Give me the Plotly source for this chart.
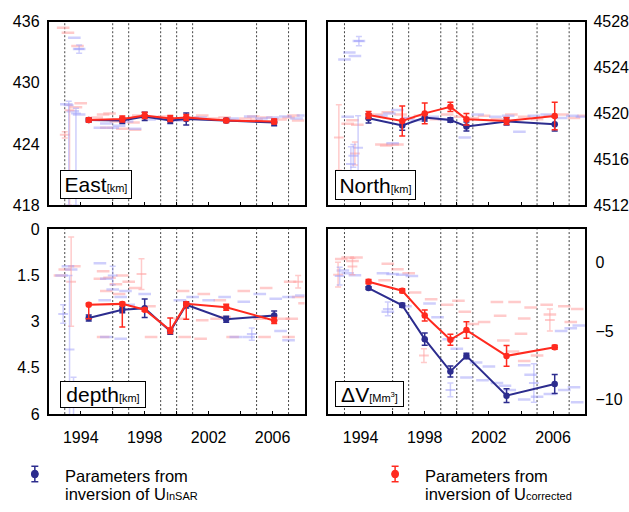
import plotly.graph_objects as go

# ---------------- data ----------------
years = [1994.5, 1996.6, 1998.0, 1999.6, 2000.6, 2003.1, 2006.1]
event_years = [1993, 1996, 1997, 1999, 2000, 2001, 2005, 2007]
x_tick_vals = [1994, 1998, 2002, 2006]
x_tick_text = ["1994", "1998", "2002", "2006"]

east_insar = [426.35, 426.3, 426.7, 426.3, 426.45, 426.3, 426.1]
east_insar_err = [0.2, 0.3, 0.4, 0.3, 0.6, 0.2, 0.3]
east_corr = [426.35, 426.45, 426.8, 426.5, 426.6, 426.3, 426.2]
east_corr_err = [0.2, 0.3, 0.3, 0.3, 0.3, 0.2, 0.25]

north_insar = [4519.57, 4518.94, 4519.63, 4519.43, 4518.86, 4519.29, 4519.06]
north_insar_err = [0.4, 0.4, 0.3, 0.2, 0.4, 0.3, 0.6]
north_corr = [4519.86, 4519.34, 4520.0, 4520.57, 4519.49, 4519.34, 4519.77]
north_corr_err = [0.3, 1.3, 0.9, 0.4, 0.5, 0.3, 1.2]

depth_insar = [2.88, 2.61, 2.56, 3.31, 2.45, 2.92, 2.8]
depth_insar_err = [0.1, 0.1, 0.3, 0.1, 0.1, 0.1, 0.15]
depth_corr = [2.45, 2.42, 2.61, 3.28, 2.42, 2.53, 2.96]
depth_corr_err_plus = [0.45, 0.75, 0.05, 0.1, 0.5, 0.1, 0.1]
depth_corr_err_minus = [0.05, 0.05, 0.05, 0.4, 0.05, 0.1, 0.1]

dv_insar = [-1.88, -3.13, -5.6, -7.95, -6.82, -9.72, -8.87]
dv_insar_err = [0.1, 0.15, 0.45, 0.4, 0.2, 0.5, 0.7]
dv_corr = [-1.41, -2.07, -3.88, -5.65, -4.94, -6.82, -6.19]
dv_corr_err = [0.15, 0.15, 0.4, 0.4, 0.6, 0.75, 0.15]

# faint individual-interval estimates (background)
east_bg_corr_x = [1992.9, 1993.2, 1993.8, 1993.7, 1994.0, 1995.0, 1995.4, 1995.8, 1996.2, 1996.8, 1997.3, 1997.6,
                  1998.5, 1999.2, 2000.0, 2001.0, 2001.6, 2002.3, 2003.0, 2003.6, 2004.3, 2005.0, 2005.6, 2006.5,
                  2007.0, 2007.6, 1995.6, 1996.6, 1997.4, 2004.8, 2007.3]
east_bg_corr_y = [435.4, 434.9, 433.6, 427.6, 428.0, 426.6, 426.9, 427.0, 426.2, 426.5, 426.1, 426.8,
                  426.6, 426.7, 426.4, 426.6, 426.8, 426.5, 426.6, 426.3, 426.5, 426.4, 426.6, 426.4,
                  426.6, 426.3, 425.6, 425.5, 425.4, 426.7, 426.8]
east_bg_insar_x = [1993.6, 1993.9, 1993.1, 1993.5, 1993.9, 1995.2, 1995.6, 1996.0, 1996.4, 1996.9, 1997.4, 1998.3,
                   1999.0, 2000.2, 2001.5, 2003.5, 2004.6, 2005.3, 2006.0, 2006.8, 2007.5, 2007.9]
east_bg_insar_y = [434.4, 433.3, 427.9, 427.2, 426.9, 425.6, 426.0, 425.6, 425.8, 426.2, 425.5, 426.4,
                   426.5, 426.3, 426.6, 426.5, 426.7, 426.5, 426.6, 426.7, 426.5, 426.8]
east_bar_corr = dict(x=[1993.3, 1993.0], y=[427.3, 424.9], up=[0.5, 0.3], down=[9.3, 0.3])
east_bar_insar = dict(x=[1993.25, 1993.7, 1993.9], y=[427.8, 427.0, 433.3], up=[0.4, 0.5, 0.4], down=[9.8, 9.0, 0.4])

north_bg_insar_x = [1993.0, 1993.3, 1993.65, 1993.9, 1993.2, 1995.3, 1995.8, 1996.3, 1996.9, 1997.5, 1998.5, 1999.2,
                    2000.5, 2001.3, 2002.4, 2003.2, 2003.9, 2004.8, 2005.6, 2006.5, 2007.2, 2007.8, 1996.0]
north_bg_insar_y = [4524.7, 4525.3, 4525.0, 4526.3, 4519.7, 4519.8, 4520.0, 4520.3, 4519.6, 4519.4, 4519.7, 4519.5,
                    4517.9, 4519.9, 4519.7, 4519.8, 4518.4, 4519.8, 4519.9, 4519.6, 4519.8, 4519.7, 4517.4]
north_bg_corr_x = [1993.2, 1993.5, 1993.8, 1995.3, 1995.6, 1996.0, 1996.3, 1995.0, 1995.7, 1996.5, 1997.0, 1997.7,
                   1998.7, 1999.4, 2000.2, 2001.0, 2001.7, 2002.5, 2003.4, 2004.2, 2005.0, 2005.8, 2006.6, 2007.3, 2007.9]
north_bg_corr_y = [4519.1, 4519.4, 4519.0, 4517.3, 4517.2, 4517.3, 4517.3, 4519.9, 4520.1, 4519.9, 4519.6, 4519.8,
                   4519.5, 4519.9, 4519.7, 4519.6, 4519.8, 4519.5, 4519.9, 4519.7, 4519.5, 4519.8, 4519.9, 4519.6, 4519.8]
north_bar_insar = dict(x=[1993.9, 1993.85, 1993.4, 1993.55], y=[4526.3, 4517.0, 4515.6, 4516.3],
                       up=[0.4, 2.8, 1.5, 1.0], down=[0.4, 2.8, 1.5, 1.0])
north_bar_corr = dict(x=[1992.65, 1993.65], y=[4517.9, 4516.5], up=[2.85, 1.0], down=[2.85, 1.0])

depth_bg_corr_x = [1992.7, 1993.0, 1993.6, 1995.4, 1995.8, 1996.2, 1996.6, 1995.6, 1996.4, 1997.0, 1997.4, 1995.2,
                   1998.3, 2000.4, 2001.7, 2002.7, 2004.2, 2005.6, 2007.1, 2007.6, 2008.0, 2000.2, 2001.6, 2002.5,
                   2003.0, 2005.2, 2006.7, 2007.2, 1995.4, 1998.4, 2000.5, 2001.5, 2003.5, 2005.5, 2007.0]
depth_bg_corr_y = [1.5, 1.3, 1.2, 1.36, 1.57, 1.78, 1.5, 2.0, 2.1, 1.7, 1.9, 1.6,
                   2.5, 2.0, 2.1, 2.3, 2.0, 1.9, 1.7, 2.2, 2.4, 2.9, 2.95, 2.9,
                   2.85, 2.9, 2.9, 2.9, 3.5, 3.5, 3.5, 3.55, 3.5, 3.5, 3.5]
depth_bg_insar_x = [1992.8, 1993.2, 1993.4, 1995.2, 1995.6, 1996.0, 1996.5, 1997.0, 1995.5, 1996.8, 1998.0, 2000.2,
                    2001.0, 2002.0, 2003.0, 2004.2, 2005.2, 2006.2, 2007.0, 2007.8, 1995.6, 1996.5, 2003.7, 2004.5,
                    2006.5, 2007.0]
depth_bg_insar_y = [1.5, 1.2, 1.3, 1.1, 1.6, 1.95, 2.2, 2.45, 2.3, 2.0, 2.1, 2.3,
                    2.2, 2.3, 2.2, 2.35, 2.1, 2.25, 2.2, 2.15, 3.5, 3.55, 3.5, 3.5,
                    3.3, 3.6]
depth_bar_corr = dict(x=[1993.4, 1997.8, 2007.6], y=[1.7, 1.45, 1.7], up=[1.45, 0.5, 0.2], down=[1.45, 0.5, 0.2])
depth_bar_insar = dict(x=[1993.3, 1992.9, 1993.55, 2004.7, 1996.0], y=[3.9, 2.75, 5.6, 3.4, 1.5],
                       up=[2.4, 0.3, 0.8, 0.2, 0.3], down=[2.4, 0.3, 0.8, 0.2, 0.3])

dv_bg_corr_x = [1992.8, 1993.2, 1993.75, 1993.5, 1995.7, 1996.3, 1997.0, 1995.5, 1997.4, 1998.4, 1999.4, 2000.1,
                2002.5, 2003.6, 2004.6, 2005.6, 2006.7, 2007.5, 2001.7, 2002.7, 2004.2, 2005.8, 2007.1, 2002.9,
                2003.5, 2004.2, 2005.0, 2004.0, 2001.0, 2000.5]
dv_bg_corr_y = [0.24, 0.35, 0.35, 0.1, -0.1, -0.5, -0.8, -1.3, -2.2, -2.7, -3.1, -2.8,
                -2.9, -2.9, -3.3, -3.1, -3.2, -3.4, -4.35, -3.9, -4.1, -3.8, -4.35, -5.7,
                -6.5, -7.2, -6.8, -5.2, -4.5, -3.6]
dv_bg_insar_x = [1993.2, 1993.65, 1992.9, 1995.4, 1996.0, 1996.6, 1997.2, 1995.7, 1996.8, 1998.3, 1998.8, 1999.5,
                 2000.0, 2001.2, 2000.6, 2001.6, 2002.5, 2003.3, 2004.2, 2005.0, 2005.8, 2006.7, 2007.3, 2007.5,
                 2004.2, 2004.6, 2006.5, 2007.1, 2007.6, 2003.0, 2002.0]
dv_bg_insar_y = [-0.8, -0.95, -0.6, -0.8, -0.85, -0.9, -1.0, -3.6, -3.2, -3.0, -4.0, -5.6,
                 -6.3, -7.3, -8.4, -8.6, -8.8, -9.3, -10.0, -9.8, -9.6, -9.3, -9.1, -10.2,
                 -7.5, -8.2, -5.0, -4.8, -4.6, -9.0, -7.6]
dv_bar_corr = dict(x=[1992.6, 1993.5, 1997.95, 2005.8], y=[-0.9, -0.3, -6.8, -4.2], up=[0.9, 0.6, 0.5, 0.8],
                   down=[0.9, 0.6, 0.5, 0.8])
dv_bar_insar = dict(x=[1992.7, 1995.7, 1999.6, 2004.8], y=[-1.0, -3.4, -9.3, -8.8], up=[0.65, 0.5, 0.5, 1.4],
                    down=[0.65, 0.5, 0.5, 1.4])

# ---------------- style ----------------
BLUE = "#2c2c8e"
RED = "#ff2a1f"
FAINT_BLUE = "rgba(160,160,250,0.5)"
FAINT_RED = "rgba(255,160,160,0.55)"
FONT = "Liberation Sans, Arial, sans-serif"

fig = go.Figure()

panels = [
    ("x", "y", east_insar, east_insar_err, east_insar_err, east_corr, east_corr_err, east_corr_err,
     east_bg_insar_x, east_bg_insar_y, east_bg_corr_x, east_bg_corr_y, east_bar_insar, east_bar_corr),
    ("x2", "y2", north_insar, north_insar_err, north_insar_err, north_corr, north_corr_err, north_corr_err,
     north_bg_insar_x, north_bg_insar_y, north_bg_corr_x, north_bg_corr_y, north_bar_insar, north_bar_corr),
    ("x3", "y3", depth_insar, depth_insar_err, depth_insar_err, depth_corr, depth_corr_err_plus, depth_corr_err_minus,
     depth_bg_insar_x, depth_bg_insar_y, depth_bg_corr_x, depth_bg_corr_y, depth_bar_insar, depth_bar_corr),
    ("x4", "y4", dv_insar, dv_insar_err, dv_insar_err, dv_corr, dv_corr_err, dv_corr_err,
     dv_bg_insar_x, dv_bg_insar_y, dv_bg_corr_x, dv_bg_corr_y, dv_bar_insar, dv_bar_corr),
]

for (xa, ya, vi, ei_p, ei_m, vc, ec_p, ec_m, bix, biy, bcx, bcy, bari, barc) in panels:
    for bx, by, col in [(bcx, bcy, FAINT_RED), (bix, biy, FAINT_BLUE)]:
        fig.add_trace(go.Scatter(x=bx, y=by, xaxis=xa, yaxis=ya, mode="markers", showlegend=False,
                                 hoverinfo="skip",
                                 marker=dict(symbol="line-ew", size=9, line=dict(color=col, width=2.5))))
    for bar, col in [(barc, FAINT_RED), (bari, FAINT_BLUE)]:
        fig.add_trace(go.Scatter(x=bar["x"], y=bar["y"], xaxis=xa, yaxis=ya, mode="markers", showlegend=False,
                                 hoverinfo="skip",
                                 marker=dict(symbol="line-ew", size=7, line=dict(color=col, width=2)),
                                 error_y=dict(type="data", symmetric=False, array=bar["up"], arrayminus=bar["down"],
                                              color=col, thickness=1.5, width=3)))
    fig.add_trace(go.Scatter(x=years, y=vi, xaxis=xa, yaxis=ya, mode="lines+markers", showlegend=False,
                             line=dict(color=BLUE, width=2), marker=dict(color=BLUE, size=6.5),
                             error_y=dict(type="data", symmetric=False, array=ei_p, arrayminus=ei_m,
                                          color=BLUE, thickness=1.5, width=3)))
    fig.add_trace(go.Scatter(x=years, y=vc, xaxis=xa, yaxis=ya, mode="lines+markers", showlegend=False,
                             line=dict(color=RED, width=2), marker=dict(color=RED, size=6.5),
                             error_y=dict(type="data", symmetric=False, array=ec_p, arrayminus=ec_m,
                                          color=RED, thickness=1.5, width=3)))

W, H = 629, 512
left_dom = [49 / W, 306 / W]
right_dom = [330 / W, 588 / W]
top_dom = [1 - 204 / H, 1 - 14 / H]
bot_dom = [1 - 420 / H, 1 - 229 / H]

axis_common = dict(showline=True, mirror=True, linewidth=2, linecolor="black", showgrid=False, zeroline=False,
                   tickfont=dict(family=FONT, size=16, color="black"))
xcommon = dict(axis_common, range=[1992, 2008], tickvals=x_tick_vals, ticktext=x_tick_text, ticks="inside",
               ticklen=3, tickwidth=1, tickcolor="black", tickfont=dict(family=FONT, size=16, color="black"),
               minor=dict(ticks="inside", tick0=1994, dtick=2, ticklen=3, tickwidth=1, tickcolor="black"))

fig.update_layout(
    width=W, height=H, margin=dict(l=0, r=0, t=0, b=0),
    paper_bgcolor="white", plot_bgcolor="white", showlegend=False,
    font=dict(family=FONT, color="black"),
    xaxis=dict(xcommon, domain=left_dom, anchor="y", showticklabels=False),
    yaxis=dict(axis_common, domain=top_dom, anchor="x", range=[418, 436], tickvals=[418, 424, 430, 436],
               ticks="", ticklabelstandoff=4),
    xaxis2=dict(xcommon, domain=right_dom, anchor="y2", showticklabels=False),
    yaxis2=dict(axis_common, domain=top_dom, anchor="x2", side="right", range=[4512, 4528],
                tickvals=[4512, 4516, 4520, 4524, 4528], ticks="", ticklabelstandoff=3),
    xaxis3=dict(xcommon, domain=left_dom, anchor="y3", ticklabelstandoff=8),
    yaxis3=dict(axis_common, domain=bot_dom, anchor="x3", range=[6, 0], tickvals=[0, 1.5, 3, 4.5, 6],
                ticktext=["0", "1.5", "3", "4.5", "6"], ticks="", ticklabelstandoff=4),
    xaxis4=dict(xcommon, domain=right_dom, anchor="y4", ticklabelstandoff=8),
    yaxis4=dict(axis_common, domain=bot_dom, anchor="x4", side="right", range=[-11.06, 2.4],
                tickvals=[-10, -5, 0], ticks="", ticklabelstandoff=5),
)

shapes = []
for xa, ya in [("x", "y"), ("x2", "y2"), ("x3", "y3"), ("x4", "y4")]:
    for ev in event_years:
        shapes.append(dict(type="line", xref=xa, yref=ya + " domain", x0=ev, x1=ev, y0=0, y1=1,
                           line=dict(color="#444444", width=1, dash="2px,2px"), layer="below"))

# legend symbols (paper coordinates)
for cx, col in [(35, BLUE), (397, RED)]:
    xp = cx / W
    shapes.append(dict(type="line", xref="paper", yref="paper", x0=xp, x1=xp, y0=1 - 490 / H, y1=1 - 474 / H,
                       line=dict(color=col, width=1.5)))
    for yy in (474, 490):
        shapes.append(dict(type="line", xref="paper", yref="paper", x0=(cx - 3.5) / W, x1=(cx + 3.5) / W,
                           y0=1 - yy / H, y1=1 - yy / H, line=dict(color=col, width=1.5)))
    shapes.append(dict(type="circle", xref="paper", yref="paper", x0=(cx - 3.5) / W, x1=(cx + 3.5) / W,
                       y0=1 - 486 / H, y1=1 - 478 / H, fillcolor=col, line=dict(color=col, width=1)))
fig.update_layout(shapes=shapes)

sm = "<span style='font-size:11px'>%s</span>"
# (text, box left, box top, box right, box bottom) in pixels
labels = [
    ("East" + sm % "[km]", 60, 169, 132, 198),
    ("North" + sm % "[km]", 337, 169, 418, 199),
    ("depth" + sm % "[km]", 60, 387, 146, 414),
    ("ΔV" + sm % "[Mm<sup>3</sup>]", 337, 387, 406, 413),
]
annotations = []
for txt, x0, y0, x1, y1 in labels:
    annotations.append(dict(text=txt, xref="paper", yref="paper", x=x0 / W, y=1 - y1 / H, xanchor="left",
                            yanchor="bottom", showarrow=False, font=dict(family=FONT, size=21, color="black"),
                            width=x1 - x0 - 4, height=y1 - y0 - 4, align="center", valign="middle",
                            bgcolor="white", bordercolor="black", borderwidth=1, borderpad=1))

legend_lines = [
    (63, 484, "Parameters from"),
    (63, 503, "inversion of U" + "<span style='font-size:11px'>InSAR</span>"),
    (425, 484, "Parameters from"),
    (425, 503, "inversion of U" + "<span style='font-size:11px'>corrected</span>"),
]
for px, py, txt in legend_lines:
    annotations.append(dict(text=txt, xref="paper", yref="paper", x=px / W, y=1 - py / H, xanchor="left",
                            yanchor="middle", align="left", showarrow=False,
                            font=dict(family=FONT, size=16.5, color="black")))
fig.update_layout(annotations=annotations)

fig.write_html("out.html")
